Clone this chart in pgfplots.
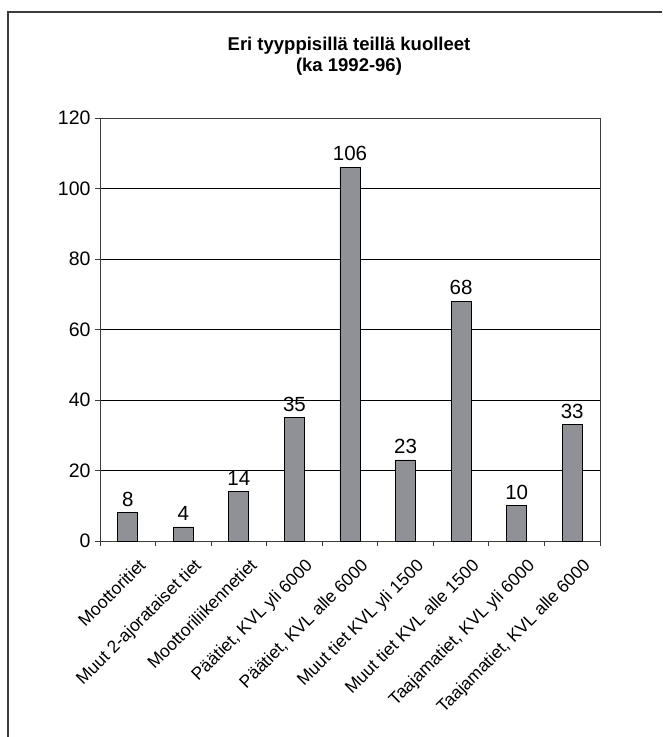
\documentclass[border=0pt]{standalone}
\usepackage{fontspec}
\setmainfont{Liberation Sans}
\usepackage{pgfplots}
\pgfplotsset{compat=1.18}
\definecolor{barfill}{RGB}{144,145,150}
\definecolor{axgray}{RGB}{60,60,60}
\begin{document}
\begin{tikzpicture}
\useasboundingbox (0pt,0pt) rectangle (662pt,737pt);
\draw[line width=1.2pt, axgray] (8pt,0pt) -- (8pt,725pt) -- (662pt,725pt);
\node[font=\bfseries\fontsize{18.5}{21.5}\selectfont, align=center] at (349pt,681pt) {Eri tyyppisillä teillä kuolleet\\(ka 1992-96)};
\begin{axis}[
  at={(100pt,196pt)}, anchor=south west,
  scale only axis, width=500pt, height=423pt,
  ymin=0, ymax=120, ytick={0,20,...,120},
  xmin=-0.5, xmax=8.5,
  xtick={0,...,8},
  xticklabels={Moottoritiet, Muut 2-ajorataiset tiet, Moottoriliikennetiet, {Päätiet, KVL yli 6000}, {Päätiet, KVL alle 6000}, Muut tiet KVL yli 1500, Muut tiet KVL alle 1500, {Taajamatiet, KVL yli 6000}, {Taajamatiet, KVL alle 6000}},
  minor xtick={-0.5,0.5,...,8.5},
  major x tick style={draw=none},
  tick align=outside,
  major tick length=5pt, minor tick length=5pt,
  xtick pos=bottom, ytick pos=left,
  ymajorgrids,
  grid style={black, line width=0.6pt},
  axis line style={axgray, line width=0.9pt},
  tick style={axgray, line width=0.8pt},
  every minor tick/.style={axgray, line width=0.8pt},
  /pgf/number format/assume math mode=true,
  y tick label style={font=\fontsize{19.5}{21}\selectfont, xshift=-1pt},
  x tick label style={font=\fontsize{17.5}{20}\selectfont, rotate=45, anchor=north east, inner sep=1pt, yshift=-14pt, xshift=0pt},
  nodes near coords,
  every node near coord/.append style={font=\fontsize{20.5}{22}\selectfont, black, inner sep=2pt, yshift=4pt},
]
\addplot[ybar, bar width=20pt, fill=barfill, draw=black, line width=0.8pt] coordinates {
(0,8) (1,4) (2,14) (3,35) (4,106) (5,23) (6,68) (7,10) (8,33)};
\end{axis}
\end{tikzpicture}
\end{document}
